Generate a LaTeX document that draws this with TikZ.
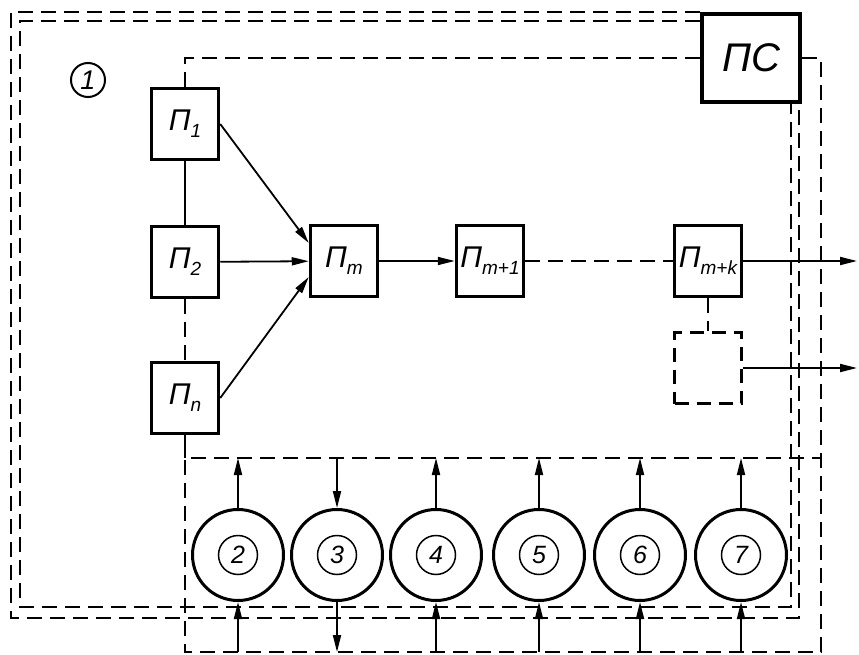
\documentclass[tikz,border=0pt]{standalone}
\usepackage{fontspec}
\setmainfont{Liberation Sans}
\usepackage{tikz}
\usetikzlibrary{positioning, arrows.meta, calc}
\newcommand{\pblk}[1]{{\itshape П}\raisebox{-0.45ex}{\fontsize{19}{19}\selectfont\itshape #1}}

\begin{document}
\begin{tikzpicture}[x=1pt, y=-1pt, >={Triangle[length=17pt,width=8pt]},
  blk/.style={draw, line width=3.5pt, minimum width=67pt, minimum height=71pt, inner sep=0pt,
    font=\fontsize{30}{32}\selectfont\itshape},
  ring/.style={draw, circle, line width=3pt, minimum size=91pt, inner sep=0pt},
  num/.style={draw, circle, line width=1.5pt, minimum size=39pt, inner sep=0pt,
    font=\fontsize{25}{25}\selectfont\itshape},
  dsh/.style={line width=2pt, dash pattern=on 15pt off 8pt},
  wire/.style={line width=1.8pt}]
  \useasboundingbox (0,0) rectangle (859,655);
  % blocks
  \node[blk] (p1) at (185,124) {\pblk{1}};
  \node[blk] (p2) at (185,262) {\pblk{2}};
  \node[blk] (pn) at (185,398) {\pblk{n}};
  \node[blk] (pm) at (344,261) {\pblk{m}};
  \node[blk] (pm1) at (490,261) {\pblk{m+1}};
  \node[blk] (pmk) at (708,261) {\pblk{m+k}};
  \node[blk, dash pattern=on 14pt off 8pt] (px) at (708,368) {};
  \node[draw, line width=4.5pt, minimum width=98pt, minimum height=88pt, inner sep=0pt,
    font=\fontsize{40}{40}\selectfont\itshape] (ps) at (751,58) {ПС};
  \node[num, minimum size=34pt, line width=2pt, font=\fontsize{27}{27}\selectfont\itshape] (c1) at (88,80) {1};
  % rings
  \foreach \k/\x in {2/238,3/337,4/436,5/539,6/640,7/741}{
    \node[ring] (r\k) at (\x,555) {};
    \node[num] (n\k) at (r\k) {\k};
  }
  \coordinate (o1) at (857,261);
  \coordinate (bus) at (185,458);
  \coordinate (busr) at (821,458);
  \coordinate (b1) at (821,652);
  \coordinate (a1) at (11,618);
  \coordinate (a2) at (20,607);
  % links
  \draw[wire] (p1) -- (p2);
  \draw[dsh] (p2) -- (pn);
  \draw[wire,->] (p1.east) -- ([yshift=18pt]pm.west);
  \draw[wire,->] (p2) -- (pm);
  \draw[wire,->] (pn.east) -- ([yshift=-16pt]pm.west);
  \draw[wire,->] (pm) -- (pm1);
  \draw[dsh] (pm1) -- (pmk);
  \draw[wire,->] (pmk.east) -- (o1);
  \draw[dsh] (pmk) -- (px);
  \draw[wire,->] (px.east) -- (px.east -| o1);
  % frames
  \draw[dsh] (ps.north west) -| (a1) -| ([xshift=-3pt]ps.south east);
  \draw[dsh] ([yshift=-9pt]ps.north west) -| (a2) -| ([xshift=-11pt]ps.south east);
  \draw[dsh] (ps.west) -| (p1.north);
  \draw[dsh] (ps.east) -| (b1) -| (bus) -- (busr);
  \draw[wire] (pn.south) -- (bus);
  % ring links
  \foreach \k in {2,4,5,6,7}{
    \draw[wire,->] (r\k.north) -- (r\k.north |- bus);
    \draw[wire,->] (r\k.south |- b1) -- (r\k.south);
  }
  \draw[wire,->] (r3.north |- bus) -- (r3.north);
  \draw[wire,->] (r3.south) -- (r3.south |- b1);
\end{tikzpicture}
\end{document}
